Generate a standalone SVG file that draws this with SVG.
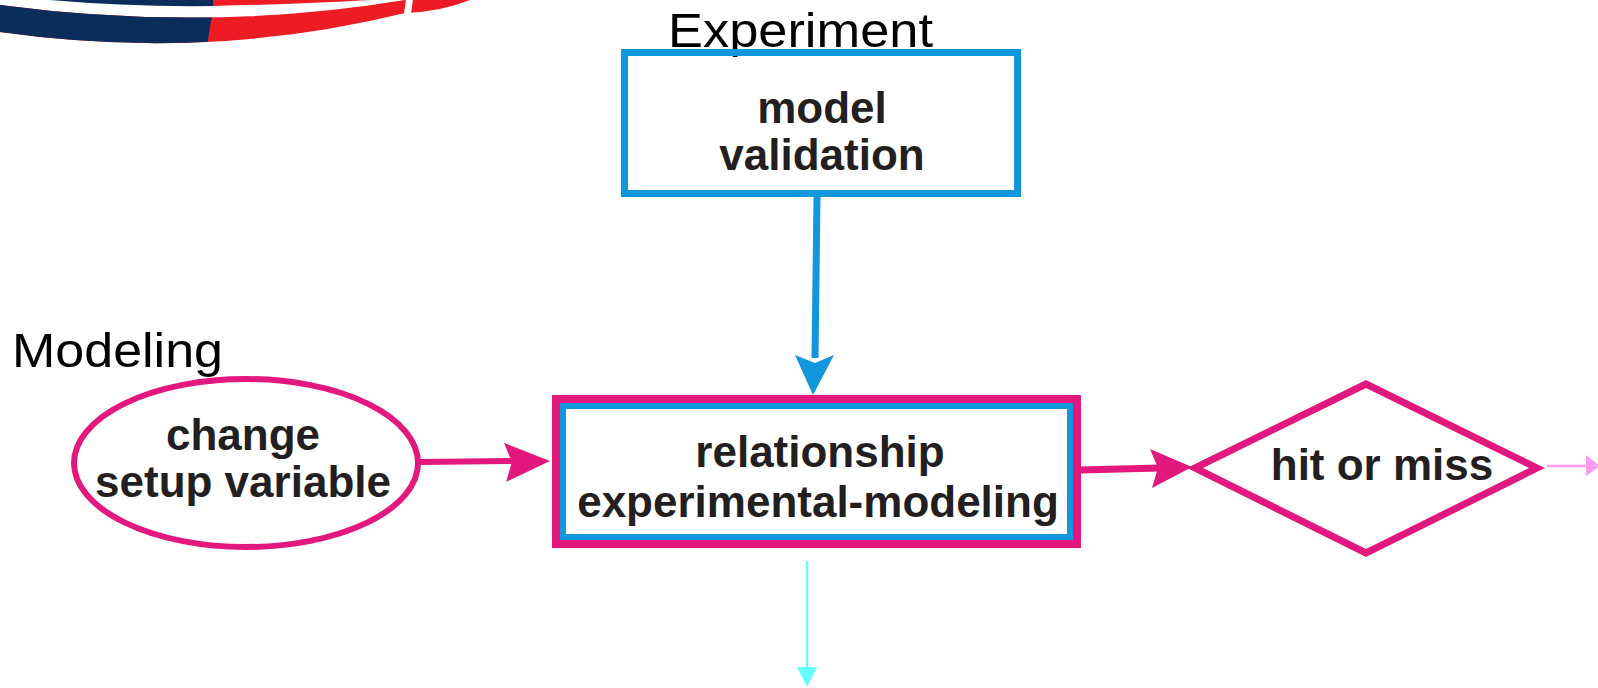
<svg xmlns="http://www.w3.org/2000/svg" width="1598" height="688" viewBox="0 0 1598 688">
<style>
.lbl{font-family:"Liberation Sans",Arial,sans-serif;font-size:49px;fill:#000}
.nt{font-family:"Liberation Sans",Arial,sans-serif;font-size:44px;font-weight:bold;fill:#231f20;text-anchor:middle}
.pk{fill:none;stroke:#e2187f}
.bl{fill:none;stroke:#1296dc}
</style>
<defs>
<clipPath id="navyClip"><path d="M0,0 H216 Q209,25 207,50 H0 Z"/></clipPath>
</defs>
<rect width="1598" height="688" fill="#fff"/>
<g id="logo">
<path d="M0,5 Q208,32.5 405,0 L470,-10 L470,0 Q440,12 405,13 Q208,61.5 0,32 Z" fill="#ed1c24"/>
<path d="M0,5 Q208,32.5 405,0 L470,-10 L470,0 Q440,12 405,13 Q208,61.5 0,32 Z" fill="#0b2d5b" clip-path="url(#navyClip)"/>
<path d="M50,0 Q130,7 213,6 L213,0 Z" fill="#0b2d5b"/>
<path d="M213,0 L213,6 Q300,4 370,0 Z" fill="#ed1c24"/>
<path d="M406,-1 L413,-1 L411,14 L404,14 Z" fill="#fff"/>
</g>
<text class="lbl" x="668" y="47" textLength="265" lengthAdjust="spacingAndGlyphs">Experiment</text>
<text class="lbl" x="12" y="367" textLength="211" lengthAdjust="spacingAndGlyphs">Modeling</text>
<g id="connectors">
<line x1="817" y1="197" x2="815" y2="358" stroke="#1296dc" stroke-width="7"/>
<polygon points="795,355 815,363 834,355 813,395" fill="#1296dc"/>
<line x1="420" y1="462" x2="512" y2="461" stroke="#e2187f" stroke-width="6"/>
<polygon points="504,443 512,462 506,482 550,461" fill="#e2187f"/>
<line x1="1081" y1="470" x2="1160" y2="468" stroke="#e2187f" stroke-width="7"/>
<polygon points="1150,449 1158,468 1152,488 1192,467" fill="#e2187f"/>
<line x1="1547" y1="466" x2="1588" y2="466" stroke="#ff9cf2" stroke-width="2.5"/>
<polygon points="1586,455 1600,466 1586,476" fill="#ff9cf2"/>
<line x1="807" y1="561" x2="807" y2="670" stroke="#66ffff" stroke-width="2.5"/>
<polygon points="797,667 817,667 807,687" fill="#66ffff"/>
</g>
<g id="node-model-validation">
<rect class="bl" x="624.5" y="52.5" width="393" height="141" stroke-width="7"/>
<text class="nt" x="822" y="123">model</text>
<text class="nt" x="822" y="170">validation</text>
</g>
<g id="node-change-setup">
<ellipse class="pk" cx="246" cy="463" rx="172" ry="84" stroke-width="6"/>
<text class="nt" x="243" y="450">change</text>
<text class="nt" x="243" y="497">setup variable</text>
</g>
<g id="node-relationship">
<rect class="pk" x="556" y="399" width="521" height="145" stroke-width="8"/>
<rect class="bl" x="563" y="406" width="507" height="131" stroke-width="6"/>
<text class="nt" x="820" y="467">relationship</text>
<text class="nt" x="818" y="517">experimental-modeling</text>
</g>
<g id="node-hit-or-miss">
<polygon class="pk" points="1195,468 1366,384 1537,468 1366,553" stroke-width="7"/>
<text class="nt" x="1382" y="480">hit or miss</text>
</g>
</svg>
